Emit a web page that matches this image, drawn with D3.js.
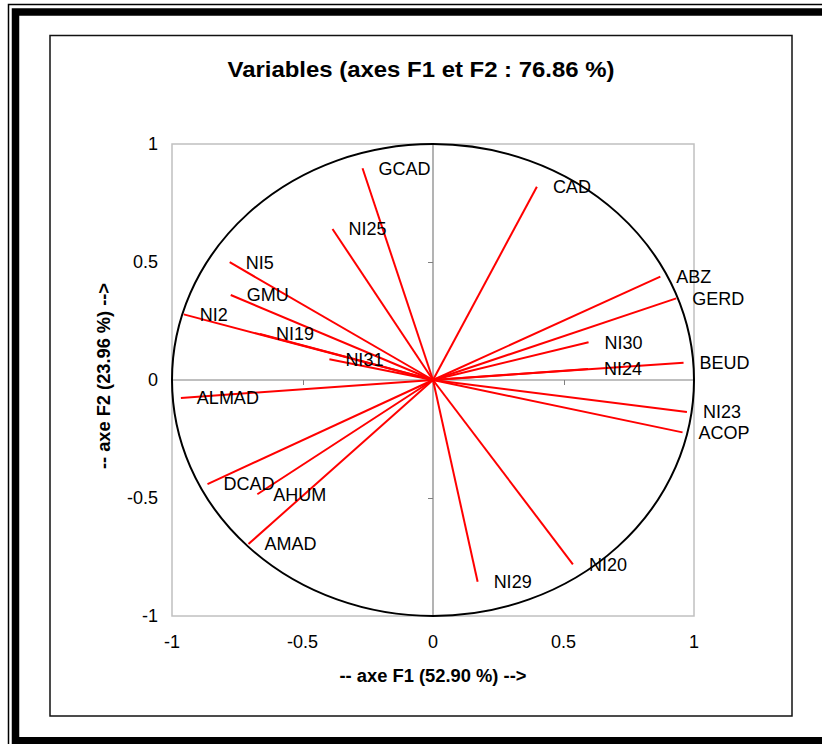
<!DOCTYPE html>
<html>
<meta charset="utf-8">
<style>
body { margin: 0; background: #fff; font-family: "Liberation Sans", Arial, sans-serif; }
.axis path, .axis line { fill: none; stroke: #808080; shape-rendering: crispEdges; }
.axis text { font-size: 18px; fill: #000; }
.lbl { font-size: 18px; fill: #000; }
</style>
<body>
<script src="https://cdn.jsdelivr.net/npm/d3@7/dist/d3.min.js"></script>
<script>
// variables and their coordinates on F1 / F2
var names = ["GCAD","NI25","NI5","GMU","NI2","NI19","NI31","CAD","ABZ","GERD","NI30","NI24","BEUD",
             "NI23","ACOP","NI20","NI29","ALMAD","DCAD","AHUM","AMAD"];
var f1 = [-0.27,-0.385,-0.779,-0.775,-0.955,-0.663,-0.397,0.398,0.871,0.932,0.596,0.594,0.960,
          0.973,0.956,0.536,0.171,-0.966,-0.864,-0.673,-0.707];
var f2 = [0.897,0.64,0.499,0.36,0.278,0.195,0.088,0.819,0.438,0.346,0.160,0.047,0.073,
          -0.136,-0.222,-0.781,-0.855,-0.076,-0.441,-0.484,-0.695];
var ticks = [-1, -0.5, 0, 0.5, 1];

var w = 822, h = 744;

var svg = d3.select("body").append("svg")
    .attr("width", w)
    .attr("height", h);

// double frame round the picture
svg.append("path")
    .attr("d", "M8.5,744V4.5H822")
    .attr("fill", "none").attr("stroke", "#000").attr("stroke-width", 1.5);
svg.append("path")
    .attr("d", "M15.5,744V12H822")
    .attr("fill", "none").attr("stroke", "#000").attr("stroke-width", 7.5);
svg.append("rect")
    .attr("x", 12).attr("y", 737).attr("width", 810).attr("height", 7)
    .attr("fill", "#000");

// chart area box
svg.append("rect")
    .attr("x", 50).attr("y", 35.5).attr("width", 742).attr("height", 680.5)
    .attr("fill", "#fff").attr("stroke", "#111").attr("stroke-width", 1.5);

var x = d3.scaleLinear().domain([-1, 1]).range([172, 694]);
var y = d3.scaleLinear().domain([-1, 1]).range([616, 144]);

// plot border
svg.append("rect")
    .attr("x", x(-1)).attr("y", y(1))
    .attr("width", x(1) - x(-1)).attr("height", y(-1) - y(1))
    .attr("fill", "none").attr("stroke", "#c0c0c0").attr("stroke-width", 1.5);

// axes through the origin
svg.append("g")
    .attr("class", "axis")
    .attr("transform", "translate(0," + y(0) + ")")
    .call(d3.axisBottom(x).tickValues([-0.5, 0.5]).tickSize(5).tickFormat(""))
    .call(function(g) { g.select(".domain").remove(); });
svg.append("line")
    .attr("x1", x(-1)).attr("x2", x(1)).attr("y1", y(0)).attr("y2", y(0))
    .attr("stroke", "#808080").attr("stroke-width", 1.2);
svg.append("g")
    .attr("class", "axis")
    .attr("transform", "translate(" + x(0) + ",0)")
    .call(d3.axisLeft(y).tickValues([-0.5, 0.5]).tickSize(5).tickFormat(""))
    .call(function(g) { g.select(".domain").remove(); });
svg.append("line")
    .attr("x1", x(0)).attr("x2", x(0)).attr("y1", y(-1)).attr("y2", y(1))
    .attr("stroke", "#808080").attr("stroke-width", 1.2);

// tick labels
svg.selectAll(".xt").data(ticks).enter().append("text")
    .attr("class", "lbl")
    .attr("x", function(d) { return x(d); })
    .attr("y", 648)
    .style("text-anchor", "middle")
    .text(function(d) { return d; });
svg.selectAll(".yt").data(ticks).enter().append("text")
    .attr("class", "lbl")
    .attr("x", 158)
    .attr("y", function(d) { return y(d); })
    .attr("dy", ".35em")
    .style("text-anchor", "end")
    .text(function(d) { return d; });

// correlation circle
svg.append("ellipse")
    .attr("cx", x(0)).attr("cy", y(0))
    .attr("rx", x(1) - x(0)).attr("ry", y(0) - y(1))
    .attr("fill", "none").attr("stroke", "#000").attr("stroke-width", 2);

// vectors
svg.selectAll(".vec").data(names).enter().append("line")
    .attr("x1", x(0)).attr("y1", y(0))
    .attr("x2", function(d, i) { return x(f1[i]); })
    .attr("y2", function(d, i) { return y(f2[i]); })
    .attr("stroke", "#ff0000").attr("stroke-width", 2);

svg.selectAll(".vl").data(names).enter().append("text")
    .attr("class", "lbl")
    .attr("x", function(d, i) { return x(f1[i]) + 16; })
    .attr("y", function(d, i) { return y(f2[i]); })
    .attr("dy", ".35em")
    .text(function(d) { return d; });

// titles
svg.append("text")
    .attr("x", 421).attr("y", 77)
    .style("text-anchor", "middle")
    .style("font-weight", "bold").style("font-size", "22px")
    .attr("textLength", 387).attr("lengthAdjust", "spacingAndGlyphs")
    .text("Variables (axes F1 et F2 : 76.86 %)");

svg.append("text")
    .attr("x", x(0)).attr("y", 682)
    .style("text-anchor", "middle")
    .style("font-weight", "bold").style("font-size", "18px")
    .attr("textLength", 187).attr("lengthAdjust", "spacingAndGlyphs")
    .text("-- axe F1 (52.90 %) -->");

svg.append("text")
    .attr("transform", "translate(110," + (y(0) - 4) + ") rotate(-90)")
    .style("text-anchor", "middle")
    .style("font-weight", "bold").style("font-size", "18px")
    .attr("textLength", 186).attr("lengthAdjust", "spacingAndGlyphs")
    .text("-- axe F2 (23.96 %) -->");
</script>
</body>
</html>
